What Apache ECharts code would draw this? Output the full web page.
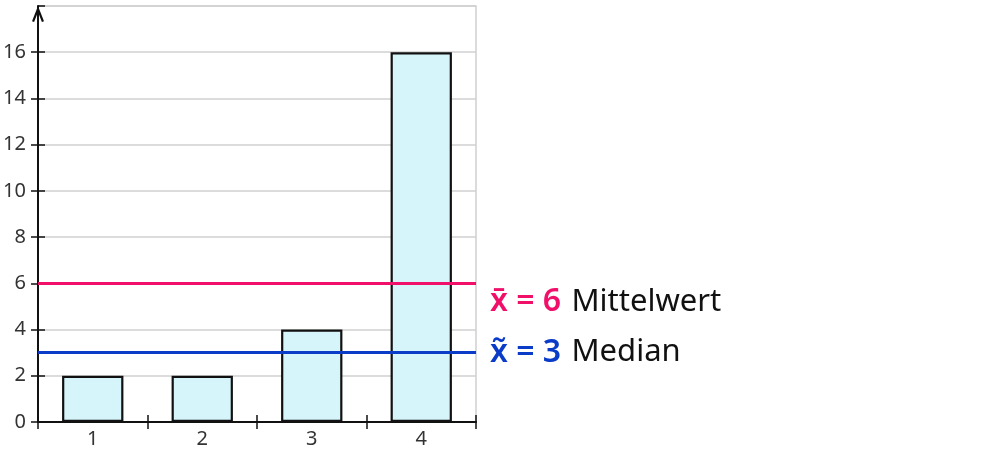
<!DOCTYPE html>
<html>
<head>
<meta charset="utf-8">
<script src="https://cdn.jsdelivr.net/npm/echarts@6/dist/echarts.min.js"></script>
<style>html,body{margin:0;padding:0;background:#fff}#c{width:1000px;height:450px}</style>
</head>
<body>
<div id="c"></div>
<script>
const categories = ['1', '2', '3', '4'];
const values = [2, 2, 4, 16];
const meanValue = 6;
const medianValue = 3;
const meanLabel = 'x\u0304 = 6';
const medianLabel = 'x\u0303 = 3';
const meanName = 'Mittelwert';
const medianName = 'Median';
const yMin = 0, yMax = 18, yStep = 2;

const FONT = 'Noto Sans';
const chart = echarts.init(document.getElementById('c'), null, {renderer: 'canvas'});
const grid = {left: 38, right: 524, top: 6, bottom: 28, show: true, borderColor: '#d0d0d0', borderWidth: 1.5, backgroundColor: 'transparent'};
const chevron = 'path://M6,0 L12,15.2 L9.9,16 L6,6 L2.1,16 L0,15.2 Z';

const richStyles = color => ({
  a: {color: color, fontSize: 32, fontWeight: 600, fontFamily: FONT},
  b: {color: '#111', fontSize: 31, fontFamily: FONT, padding: [0, 0, 0, 2]}
});

chart.setOption({
  animation: false,
  grid: grid,
  xAxis: [{
    type: 'category', data: categories, boundaryGap: true,
    axisLine: {lineStyle: {color: '#111', width: 2}},
    axisTick: {show: true, length: 7, lineStyle: {color: '#111', width: 1.5}},
    axisLabel: {color: '#333', fontSize: 20, fontFamily: FONT, margin: 7},
    splitLine: {show: false}
  }, {
    type: 'category', data: categories, boundaryGap: true, position: 'bottom',
    axisLine: {show: false},
    axisTick: {show: true, inside: true, length: 7, lineStyle: {color: '#111', width: 1.5}},
    axisLabel: {show: false}, splitLine: {show: false}
  }],
  yAxis: [{
    type: 'value', min: yMin, max: yMax, interval: yStep,
    axisLine: {show: true, lineStyle: {color: '#111', width: 2}, symbol: ['none', chevron], symbolSize: [12, 17], symbolOffset: [0, -8]},
    axisTick: {show: true, length: 7, lineStyle: {color: '#111', width: 1.5}},
    axisLabel: {color: '#333', fontSize: 20, fontFamily: FONT, margin: 12, showMaxLabel: false,
      formatter: v => v === yMax ? '' : String(v)},
    splitLine: {show: true, lineStyle: {color: '#d0d0d0', width: 1.5}}
  }, {
    type: 'value', min: yMin, max: yMax, interval: yStep, position: 'left',
    axisLine: {show: false},
    axisTick: {show: true, inside: true, length: 7, lineStyle: {color: '#111', width: 1.5}},
    axisLabel: {show: false}, splitLine: {show: false}
  }],
  series: [{
    type: 'bar', data: values, barWidth: '56%', xAxisIndex: 0, yAxisIndex: 0,
    itemStyle: {color: '#d5f5fb', borderColor: '#111', borderWidth: 2.2},
    markLine: {
      silent: true, symbol: 'none', animation: false,
      data: [
        {yAxis: meanValue, lineStyle: {color: '#f0106a', width: 3, type: 'solid'},
          label: {show: true, position: 'end', distance: 14,
            formatter: '{a|' + meanLabel + ' }{b|' + meanName + '}',
            padding: [38, 0, 0, 0],
            rich: richStyles('#f0106a')}},
        {yAxis: medianValue, lineStyle: {color: '#0a3cc8', width: 3, type: 'solid'},
          label: {show: true, position: 'end', distance: 14,
            formatter: '{a|' + medianLabel + ' }{b|' + medianName + '}',
            rich: richStyles('#0a3cc8')}}
      ]
    }
  }]
});
</script>
</body>
</html>
